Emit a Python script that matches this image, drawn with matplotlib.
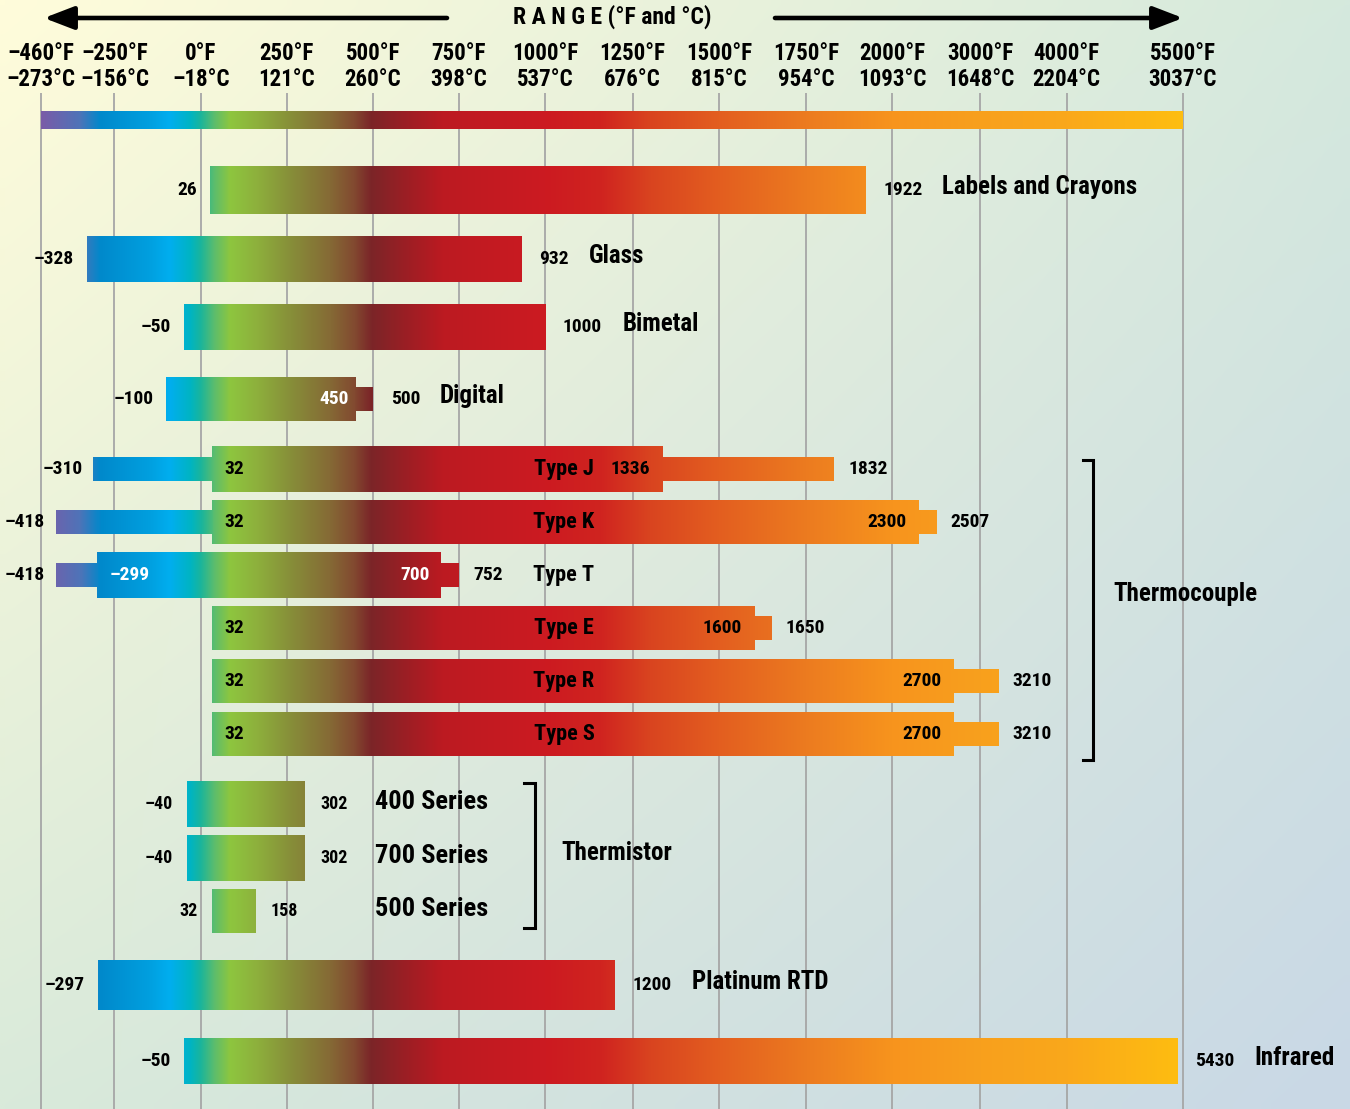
import numpy as np
import matplotlib
matplotlib.use("Agg")
import matplotlib.pyplot as plt
from matplotlib import font_manager
from matplotlib.colors import to_rgb
from matplotlib.transforms import IdentityTransform, blended_transform_factory

# ---------------------------------------------------------------- data
TICK_F = [-460, -250, 0, 250, 500, 750, 1000, 1250, 1500, 1750, 2000, 3000, 4000, 5500]
TICK_C = [-273, -156, -18, 121, 260, 398, 537, 676, 815, 954, 1093, 1648, 2204, 3037]

SENSORS = ["Labels and Crayons", "Glass", "Bimetal", "Digital",
           "Type J", "Type K", "Type T", "Type E", "Type R", "Type S",
           "400 Series", "700 Series", "500 Series",
           "Platinum RTD", "Infrared"]
GROUP = ["", "", "", "",
         "Thermocouple", "Thermocouple", "Thermocouple",
         "Thermocouple", "Thermocouple", "Thermocouple",
         "Thermistor", "Thermistor", "Thermistor",
         "", ""]
# full usable range (°F)
RANGE_LO = [26, -328, -50, -100, -310, -418, -418, 32, 32, 32, -40, -40, 32, -297, -50]
RANGE_HI = [1922, 932, 1000, 500, 1832, 2507, 752, 1650, 3210, 3210, 302, 302, 158, 1200, 5430]
# standard (core) range (°F)
CORE_LO = [26, -328, -50, -100, 32, 32, -299, 32, 32, 32, -40, -40, 32, -297, -50]
CORE_HI = [1922, 932, 1000, 450, 1336, 2300, 700, 1600, 2700, 2700, 302, 302, 158, 1200, 5430]

# ---------------------------------------------------------------- layout / style
W, H, DPI = 1350, 1109, 100
TICK_PX = [41, 114.5, 201, 286.5, 372.7, 458.5, 545, 632.5, 719.3, 806, 892, 980, 1066.7, 1182.5]
ROW_Y = [190, 259, 327, 399, 469, 522, 575, 628, 681, 734, 804, 858, 911, 985, 1061]
CORE_H = [48, 46, 46, 44, 46, 45, 46, 44, 45, 45, 46, 46, 44, 50, 46]
EXT_H = 25
WHITE_LO = {"Type T"}
WHITE_HI = {"Digital", "Type T"}

# temperature colour ramp (°F -> colour)
RAMP_F = [-460, -350, -290, -150, -90, -30, 0, 40, 85, 170, 260, 375, 445, 495,
          605, 705, 1000, 1160, 1300, 1500, 1750, 2000, 3000, 4000, 5500]
RAMP_C = ['#7B5BA7', '#4F73B8', '#0089CB', '#009FDF', '#00AEEF', '#00B4C2', '#1BB59B',
          '#5DBD6C', '#8DC63F', '#8DAE3C', '#878F39', '#856A35', '#824A30', '#7B2528',
          '#9E1E24', '#BC1A21', '#CC1A21', '#D0241F', '#D94420', '#E35E1F', '#EC7B20',
          '#F7941D', '#F8A01D', '#FAA81B', '#FEBE10']

names = {f.name for f in font_manager.fontManager.ttflist}
FONT = next((n for n in ["Liberation Sans Narrow", "Roboto Condensed", "Open Sans Condensed",
                         "DejaVu Sans"] if n in names), "DejaVu Sans")
FAMILY = [FONT, "DejaVu Sans"]
plt.rcParams["font.family"] = FAMILY
plt.rcParams["font.weight"] = "bold"


# ---------------------------------------------------------------- piecewise temperature scale
S_LO = (TICK_PX[1] - TICK_PX[0]) / (TICK_F[1] - TICK_F[0])
S_HI = (TICK_PX[-1] - TICK_PX[-2]) / (TICK_F[-1] - TICK_F[-2])


def fwd(v):
    v = np.asarray(v, dtype=float)
    out = np.interp(v, TICK_F, TICK_PX)
    out = np.where(v < TICK_F[0], TICK_PX[0] + (v - TICK_F[0]) * S_LO, out)
    out = np.where(v > TICK_F[-1], TICK_PX[-1] + (v - TICK_F[-1]) * S_HI, out)
    return out


def inv(p):
    p = np.asarray(p, dtype=float)
    out = np.interp(p, TICK_PX, TICK_F)
    out = np.where(p < TICK_PX[0], TICK_F[0] + (p - TICK_PX[0]) / S_LO, out)
    out = np.where(p > TICK_PX[-1], TICK_F[-1] + (p - TICK_PX[-1]) / S_HI, out)
    return out


fig = plt.figure(figsize=(W / DPI, H / DPI), dpi=DPI)
ax = fig.add_axes([0, 0, 1, 1])
ax.set_xscale("function", functions=(fwd, inv))
ax.set_xlim(float(inv(0)), float(inv(W)))
ax.set_ylim(H, 0)
ax.axis("off")

# x in pixels, y in data rows
PX = blended_transform_factory(IdentityTransform(), ax.transData)

# ---------------------------------------------------------------- background wash
def _rgb(c):
    return np.array(to_rgb(c))

gy, gx = np.mgrid[0:1:111j, 0:1:135j]
tl, tr, bl, br = _rgb("#FFFCDA"), _rgb("#D5E9DD"), _rgb("#D9EADA"), _rgb("#C9D8E6")
bg = ((1 - gx) * (1 - gy))[..., None] * tl + (gx * (1 - gy))[..., None] * tr \
    + ((1 - gx) * gy)[..., None] * bl + (gx * gy)[..., None] * br
ax.imshow(bg, extent=(0, 1, 0, 1), transform=ax.transAxes, aspect="auto",
          interpolation="bilinear", zorder=0)

# ---------------------------------------------------------------- colour texture for bars
cols = np.array([to_rgb(c) for c in RAMP_C])
tf = inv(np.arange(W) + 0.5)
tex = np.stack([np.interp(tf, RAMP_F, cols[:, k]) for k in range(3)], axis=-1)[None, :, :]


def temp_bar(lo, hi, y, h):
    patch = ax.barh(y, hi - lo, left=lo, height=h, color="none", linewidth=0, zorder=3)[0]
    im = ax.imshow(tex, extent=(0, 1, 0, 1), transform=ax.transAxes, aspect="auto",
                   interpolation="nearest", zorder=3)
    im.set_clip_path(patch)
    return patch


def fmt(v):
    return str(v).replace("-", "\u2013")


def note(txt, x, y, dx, ha, size, color="black", dy=0):
    return ax.annotate(txt, xy=(x, y), xytext=(dx, dy), textcoords="offset pixels",
                       ha=ha, va="center", fontsize=size, color=color,
                       fontweight="bold", zorder=6)


# ---------------------------------------------------------------- scale header
ax.vlines(TICK_F, 93, H, color="#A6A6A6", lw=1.3, zorder=1)
temp_bar(TICK_F[0], TICK_F[-1], 120, 17.5)
for f, c in zip(TICK_F, TICK_C):
    ax.text(f, 53, f"{fmt(f)}°F", ha="center", va="center", fontsize=16.5, zorder=6)
    ax.text(f, 79, f"{fmt(c)}°C", ha="center", va="center", fontsize=16.5, zorder=6)

ax.text(612, 17, "R A N G E (°F and °C)", transform=PX, ha="center", va="center",
        fontsize=17, zorder=6)
arrow = dict(arrowstyle="-|>,head_length=1.3,head_width=0.5", lw=3.3, color="black",
             mutation_scale=14, shrinkA=0, shrinkB=0)
ax.annotate("", xy=(44, 18), xytext=(447, 18), xycoords=PX, textcoords=PX, arrowprops=arrow)
ax.annotate("", xy=(1183, 18), xytext=(775, 18), xycoords=PX, textcoords=PX, arrowprops=arrow)

# ---------------------------------------------------------------- sensor bars
for i, name in enumerate(SENSORS):
    y, h, grp = ROW_Y[i], CORE_H[i], GROUP[i]
    lo, hi, clo, chi = RANGE_LO[i], RANGE_HI[i], CORE_LO[i], CORE_HI[i]
    temp_bar(clo, chi, y, h)
    if lo < clo:
        temp_bar(lo, clo, y, EXT_H)
    if hi > chi:
        temp_bar(chi, hi, y, EXT_H)

    if grp == "Thermocouple":
        if lo < clo:
            note(fmt(lo), lo, y, -11, "right", 14)
        note(fmt(clo), clo, y, 12, "left", 14,
             "white" if name in WHITE_LO else "black")
        note(fmt(chi), chi, y, -12, "right", 14,
             "white" if name in WHITE_HI else "black")
        note(fmt(hi), hi, y, 14, "left", 14)
        ax.text(564, y, name, transform=PX, ha="center", va="center",
                fontsize=16, zorder=6)
    elif grp == "Thermistor":
        note(fmt(lo), lo, y, -14, "right", 13)
        note(fmt(hi), hi, y, 16, "left", 13)
        ax.text(375, y - 2, name, transform=PX, ha="left", va="center",
                fontsize=19, zorder=6)
    else:
        note(fmt(lo), lo, y, -13, "right", 14)
        if hi > chi:
            note(fmt(chi), chi, y, -7, "right", 14,
                 "white" if name in WHITE_HI else "black")
        t = note(fmt(hi), hi, y, 18, "left", 14)
        ax.annotate(name, xy=(1, 0.5), xycoords=t, xytext=(20, 3),
                    textcoords="offset pixels", ha="left", va="center",
                    fontsize=18, fontweight="bold", zorder=6)

# ---------------------------------------------------------------- group brackets
ax.plot([1083, 1093, 1093, 1083], [460, 460, 760, 760], transform=PX,
        color="black", lw=2.2, solid_joinstyle="miter", zorder=5)
ax.text(1113, 594, "Thermocouple", transform=PX, ha="left", va="center",
        fontsize=18, zorder=6)
ax.plot([524, 535, 535, 524], [783, 783, 928, 928], transform=PX,
        color="black", lw=2.2, solid_joinstyle="miter", zorder=5)
ax.text(561, 853, "Thermistor", transform=PX, ha="left", va="center",
        fontsize=18, zorder=6)

ax.set_xlim(float(inv(0)), float(inv(W)))
ax.set_ylim(H, 0)
fig.savefig("out.png", dpi=DPI)
